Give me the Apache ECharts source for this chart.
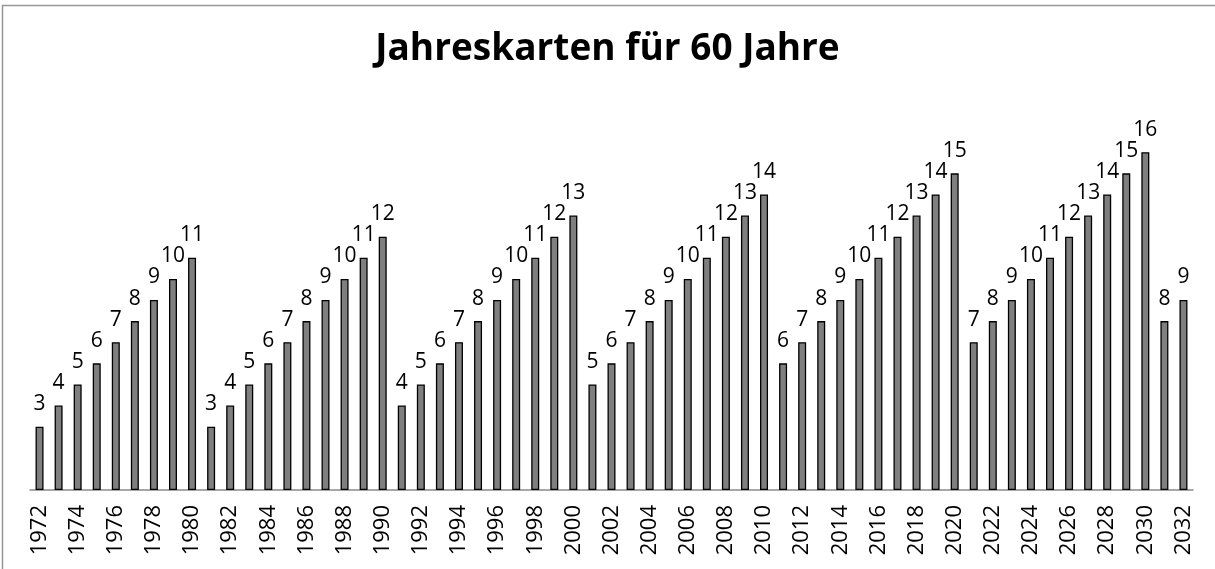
<!DOCTYPE html>
<html>
<head>
<meta charset="utf-8">
<script src="https://cdn.jsdelivr.net/npm/echarts@6/dist/echarts.min.js"></script>
<style>
html,body{margin:0;padding:0;background:#fff;}
#chart{width:1215px;height:569px;}
</style>
</head>
<body>
<div id="chart"></div>
<script>
const years = [];
for (let y = 1972; y <= 2032; y++) years.push(String(y));
const values = [
  3,4,5,6,7,8,9,10,11,
  3,4,5,6,7,8,9,10,11,12,
  4,5,6,7,8,9,10,11,12,13,
  5,6,7,8,9,10,11,12,13,14,
  6,7,8,9,10,11,12,13,14,15,
  7,8,9,10,11,12,13,14,15,16,
  8,9
];
const titleText = 'Jahreskarten für 60 Jahre';

const chart = echarts.init(document.getElementById('chart'), null, {renderer: 'canvas'});
chart.setOption({
  animation: false,
  backgroundColor: '#ffffff',
  title: {
    text: titleText,
    left: 'center',
    top: 26,
    textStyle: {fontFamily: 'Open Sans', fontWeight: 'bold', fontSize: 37, color: '#000'}
  },
  graphic: [{
    type: 'rect',
    shape: {x: 2.5, y: 5.5, width: 1300, height: 700},
    style: {fill: 'none', stroke: '#969696', lineWidth: 1.5},
    silent: true
  }],
  grid: {left: 30, right: 22, top: 110, bottom: 79},
  xAxis: {
    type: 'category',
    data: years,
    axisLine: {lineStyle: {color: '#8a8a8a', width: 1.5}},
    axisTick: {show: false},
    axisLabel: {
      interval: 1,
      rotate: 90,
      margin: 15,
      fontFamily: 'Open Sans',
      fontSize: 22,
      color: '#000'
    }
  },
  yAxis: {
    type: 'value',
    min: 0,
    max: 18,
    show: false,
    splitLine: {show: false}
  },
  series: [{
    type: 'bar',
    data: values,
    barWidth: 8,
    itemStyle: {color: '#7f7f7f', borderColor: '#000', borderWidth: 1.3},
    label: {
      show: true,
      position: 'top',
      distance: 12,
      fontFamily: 'Open Sans',
      fontSize: 21,
      color: '#000'
    }
  }]
});
</script>
</body>
</html>
